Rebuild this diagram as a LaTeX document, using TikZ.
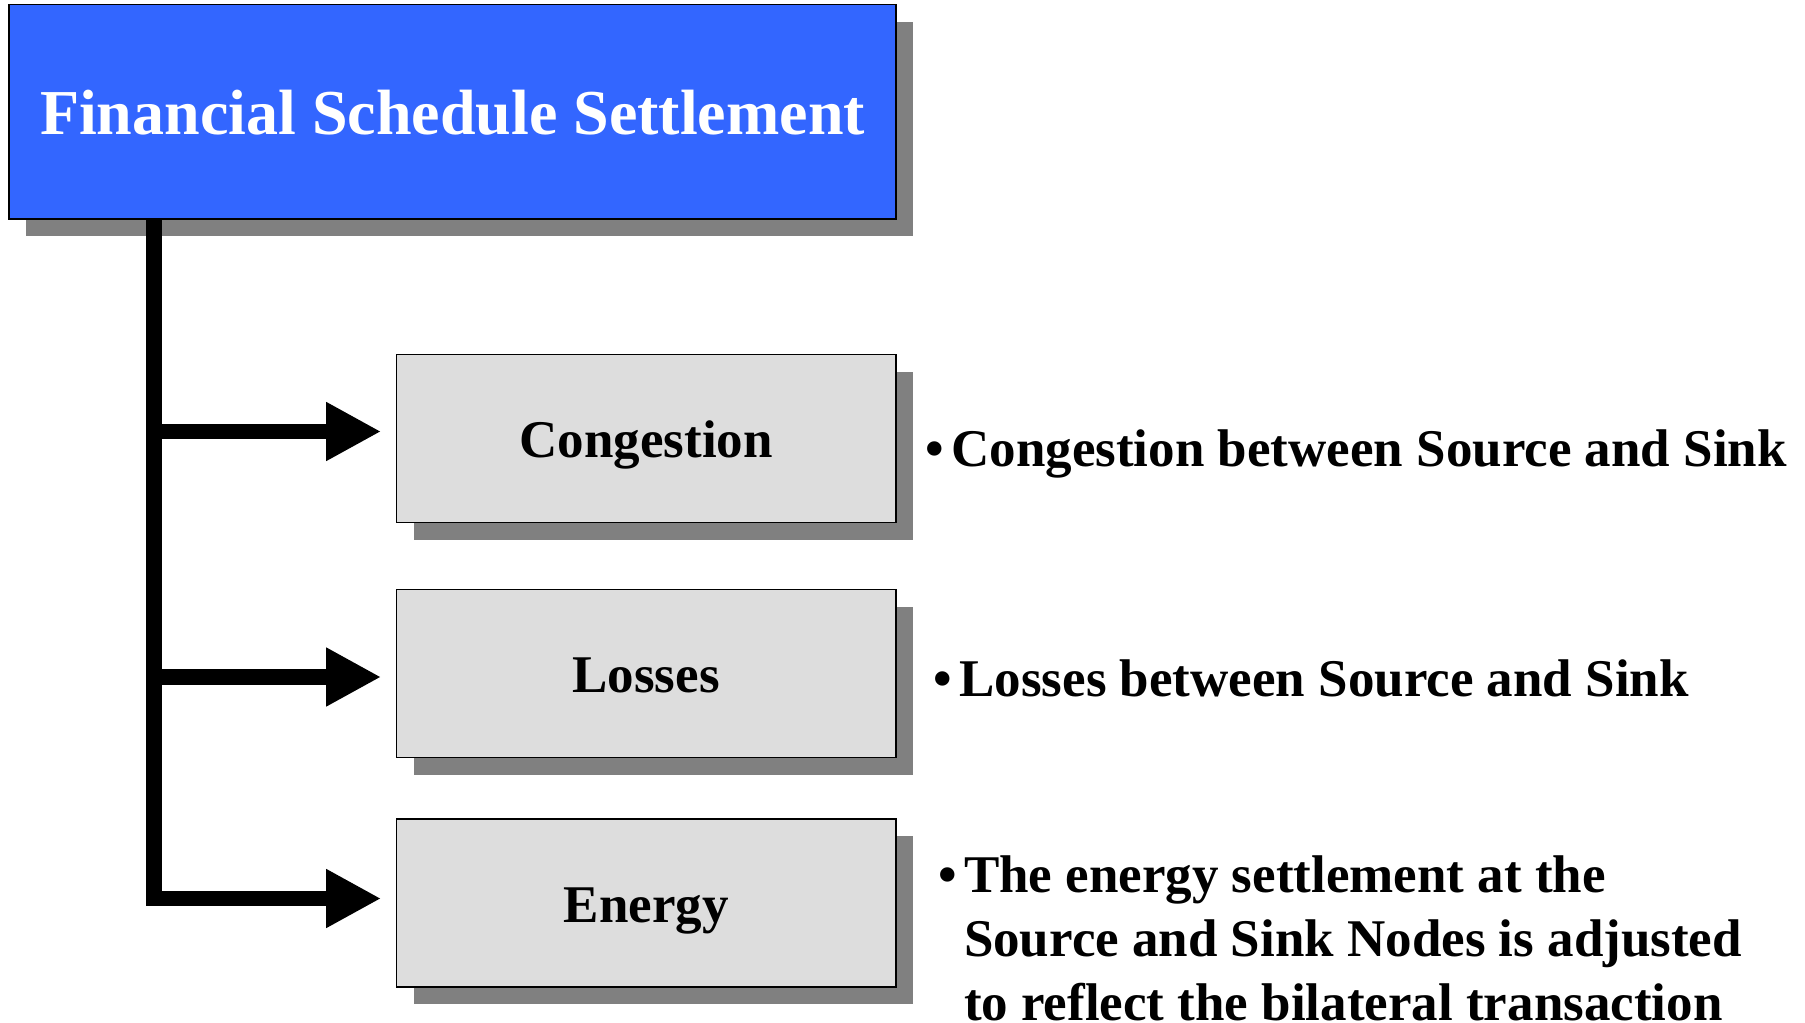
\documentclass[tikz,border=0pt]{standalone}
\usepackage{fontspec}
\setmainfont{Liberation Serif}
\usetikzlibrary{arrows.meta,shadows}

\definecolor{titleblue}{RGB}{51,102,255}
\definecolor{boxgrey}{RGB}{221,221,221}
\definecolor{shade}{RGB}{128,128,128}

\tikzset{
  shadowed/.style={drop shadow={shadow xshift=8.5pt, shadow yshift=-8.5pt,
                   fill=shade, opacity=1}},
  titlebox/.style={shadowed, draw=black, line width=0.85pt, fill=titleblue,
                   text=white, inner sep=0pt,
                   minimum width=443.25pt, minimum height=107.2pt,
                   text height=23pt, text depth=0pt,
                   font=\fontsize{32pt}{38pt}\selectfont\bfseries},
  itembox/.style={shadowed, draw=black, line width=0.85pt, fill=boxgrey,
                  inner sep=0pt, minimum width=249.6pt, minimum height=84pt,
                  text height=19pt, text depth=0pt,
                  font=\fontsize{26.5pt}{32pt}\selectfont\bfseries},
  note/.style={anchor=base west, inner sep=0pt, align=left,
               font=\fontsize{26.5pt}{32pt}\selectfont\bfseries},
  trunk/.style={line width=7.75pt, line join=miter, line cap=butt},
  branch/.style={trunk, -{Triangle[length=27.5pt, width=27.5pt]},
                 shorten >=7.25pt},
}
\newcommand{\bulletmark}{\llap{•\hspace{3.5pt}}}

\begin{document}
\begin{tikzpicture}[x=0.5pt, y=-0.5pt]
  \useasboundingbox (0,0) rectangle (1805,1023);

  % header and the three settlement components
  \node[titlebox] (title) at (452.5,111.8) {Financial Schedule Settlement};
  \node[itembox] (congestion) at (646.1,438.6) {Congestion};
  \node[itembox] (losses) at (646.1,673.5) {Losses};
  \node[itembox] (energy) at (646.1,903.2) {Energy};

  % junctions on the vertical trunk
  \coordinate (j1) at (154,431.5);
  \coordinate (j2) at (154,677);
  \coordinate (j3) at (154,898.5);

  % trunk ending in the lowest branch, then the two upper branches
  \draw[branch] (title.south -| j3) -- (j3) -- (j3 -| energy.west);
  \draw[branch] (j1) -- (j1 -| congestion.west);
  \draw[branch] (j2) -- (j2 -| losses.west);

  % descriptions (the base of a multi-line note is its last line)
  \node[note] (congnote) at (951,466) {\bulletmark Congestion between Source and Sink};
  \node[note] (lossnote) at (959,696) {\bulletmark Losses between Source and Sink};
  \node[note] (energynote) at (963.6,1020)
    {\bulletmark The energy settlement at the\\
     Source and Sink Nodes is adjusted\\
     to reflect the bilateral transaction};
\end{tikzpicture}
\end{document}
